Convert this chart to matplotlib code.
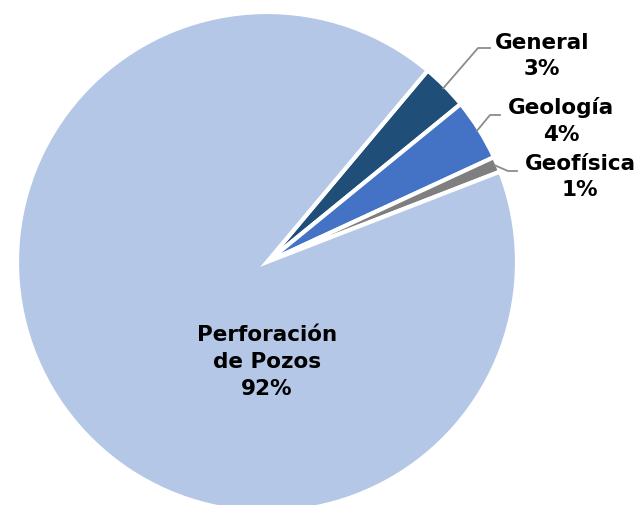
import numpy as np
from matplotlib import pyplot as plt

labels = ["General", "Geología", "Geofísica", "Perforación\nde Pozos"]
shares = [3, 4, 1, 92]
colors = ["#1F4E79", "#4472C4", "#7F7F7F", "#B4C7E7"]

W, H = 641, 505
cx, cy, R = 267, 262, 250  # pie centre and radius in pixels


def px(x, y):
    # pixel position (from top-left) -> data units of the pie
    return (x - cx) / R, (cy - y) / R


fig = plt.figure(figsize=(W / 100, H / 100), dpi=100)
ax = fig.add_axes([0, 0, 1, 1])

wedges, _ = ax.pie(shares, colors=colors, startangle=50, counterclock=False,
                   radius=1.0, wedgeprops=dict(edgecolor="white", linewidth=3))

ax.set_xlim(-cx / R, (W - cx) / R)
ax.set_ylim(-(H - cy) / R, cy / R)
ax.set_aspect("auto")
ax.axis("off")

font = dict(fontsize=15.5, fontweight="bold", ha="center", va="center",
            family="DejaVu Sans", linespacing=1.42)

# leader lines for the thin slices: (elbow, end) in pixels
leaders = [((478, 48), (490, 48)),
           ((490, 115), (500, 115)),
           ((508, 171), (517, 171))]
text_pos = [(542, 56), (561, 121), (580, 177)]

for w, lab, pct, (elbow, end), (tx, ty) in zip(wedges, labels, shares,
                                                  leaders, text_pos):
    mid = np.deg2rad((w.theta1 + w.theta2) / 2)
    start = (np.cos(mid) * 0.99, np.sin(mid) * 0.99)
    ex, ey = px(*elbow)
    nx, ny = px(*end)
    ax.plot([start[0], ex, nx], [start[1], ey, ny], color="#8C8C8C", lw=1.3)
    x, y = px(tx, ty)
    ax.text(x, y, f"{lab}\n{pct}%", **font)

x, y = px(267, 362)
ax.text(x, y, f"{labels[3]}\n{shares[3]}%", **font)

fig.savefig("out.png", dpi=100)
